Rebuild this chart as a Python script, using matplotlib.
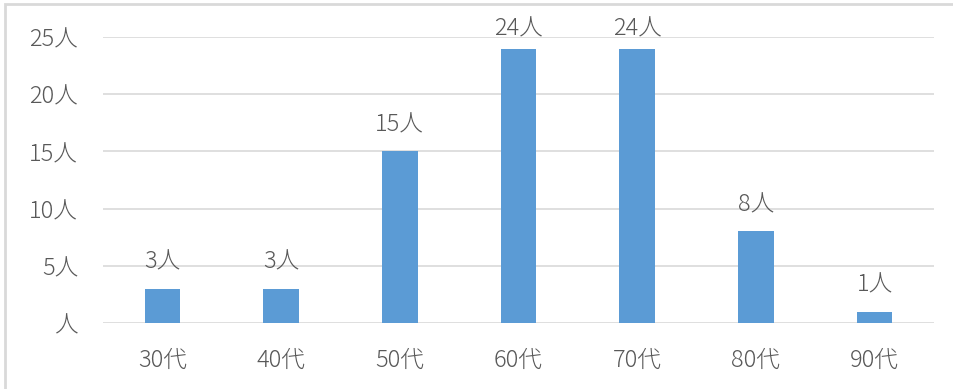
import numpy as np
import matplotlib.pyplot as plt
from matplotlib.patches import Rectangle

# 年代別の人数
ages = ['30代', '40代', '50代', '60代', '70代', '80代', '90代']
counts = [3, 3, 15, 24, 24, 8, 1]
yticks = [0, 5, 10, 15, 20, 25]
ytick_labels = ['人', '5人', '10人', '15人', '20人', '25人']

plt.rcParams['font.family'] = ['Noto Sans CJK JP', 'DejaVu Sans']
plt.rcParams['font.weight'] = 'light'
text_color = '#595959'
grid_color = '#d9d9d9'
bar_color = '#5b9bd5'

fig = plt.figure(figsize=(9.54, 3.89), dpi=100)
ax = fig.add_axes([0.108, 0.1697, 0.871, 0.735])

x = np.arange(len(ages))
bars = ax.bar(x, counts, width=0.3, color=bar_color, zorder=3)

for rect, v in zip(bars, counts):
    # 上端付近のラベルは枠内に収まるよう少し下げる
    off = 10 if v < 20 else 5
    ax.annotate(f'{v}人', (rect.get_x() + rect.get_width() / 2, v),
                xytext=(0, off), textcoords='offset points',
                ha='center', va='bottom', fontsize=17, color=text_color)

ax.set_xlim(-0.5, len(ages) - 0.5)
ax.set_ylim(0, 25)
ax.set_xticks(x)
ax.set_xticklabels(ages, fontsize=17, color=text_color)
ax.set_yticks(yticks)
ax.set_yticklabels(ytick_labels, fontsize=17, color=text_color)
ax.tick_params(axis='both', length=0)
ax.tick_params(axis='x', pad=18)
ax.tick_params(axis='y', pad=18)

ax.grid(axis='y', color=grid_color, linewidth=1.2, zorder=0)
for s in ax.spines.values():
    s.set_visible(False)

# 外枠（上と左だけ見える）
fig.patches.append(Rectangle((0.0055, -0.05), 1.2, 1.04, transform=fig.transFigure,
                             fill=False, edgecolor=grid_color, linewidth=2))

fig.savefig('out.png', dpi=100)
